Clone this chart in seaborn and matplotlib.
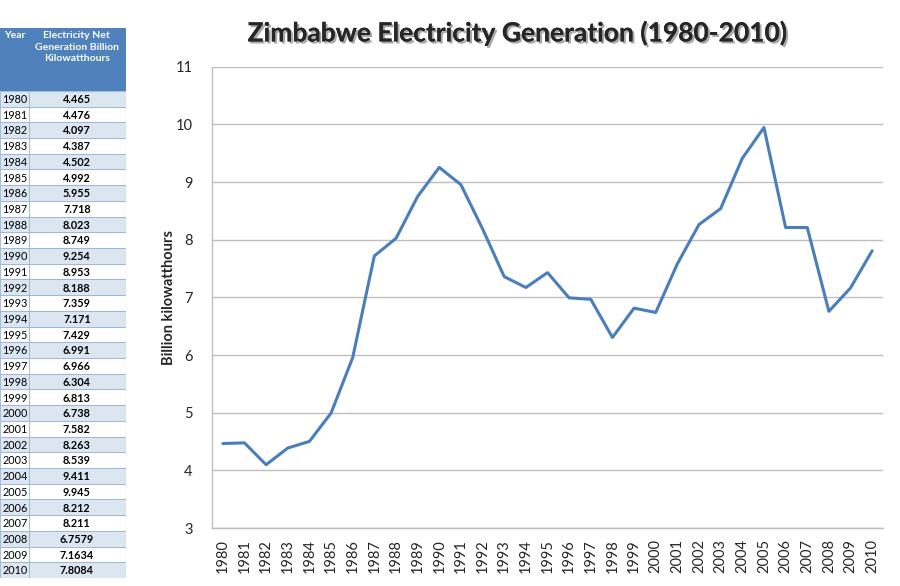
import numpy as np
import pandas as pd
import seaborn as sns
from matplotlib import pyplot as plt
from matplotlib import patheffects as pe
from matplotlib.patches import Rectangle

years = list(range(1980, 2011))
generation = [4.465, 4.476, 4.097, 4.387, 4.502, 4.992, 5.955, 7.718, 8.023, 8.749,
              9.254, 8.953, 8.188, 7.359, 7.171, 7.429, 6.991, 6.966, 6.304, 6.813,
              6.738, 7.582, 8.263, 8.539, 9.411, 9.945, 8.212, 8.211, 6.7579, 7.1634,
              7.8084]
value_labels = ["4.465", "4.476", "4.097", "4.387", "4.502", "4.992", "5.955", "7.718",
                "8.023", "8.749", "9.254", "8.953", "8.188", "7.359", "7.171", "7.429",
                "6.991", "6.966", "6.304", "6.813", "6.738", "7.582", "8.263", "8.539",
                "9.411", "9.945", "8.212", "8.211", "6.7579", "7.1634", "7.8084"]
y_ticks = [3, 4, 5, 6, 7, 8, 9, 10, 11]

sns.set_style("white")
plt.rcParams['font.family'] = ['Lato', 'DejaVu Sans']

df = pd.DataFrame({'year': [str(y) for y in years], 'gen': generation})

fig = plt.figure(figsize=(9, 5.86), dpi=100)

# main chart
ax = fig.add_axes([212 / 900, 1 - 528 / 586, 671 / 900, (528 - 66.7) / 586])
sns.lineplot(data=df, x='year', y='gen', ax=ax, color='#4A7EBB', linewidth=2.2, sort=False)
ax.set_xlim(-0.5, len(years) - 0.5)
ax.set_ylim(3, 11)
ax.set_yticks(y_ticks)
ax.yaxis.grid(True, color='#BEBEBE', linewidth=1)
ax.set_axisbelow(True)
for s in ['top', 'right']:
    ax.spines[s].set_visible(False)
for s in ['left', 'bottom']:
    ax.spines[s].set_color('#BEBEBE')
    ax.spines[s].set_linewidth(1)
ax.tick_params(axis='x', labelrotation=90, labelsize=10.5, colors='#262626', length=0, pad=8)
ax.tick_params(axis='y', labelsize=10.5, colors='#262626', length=0, pad=14)
ax.set_xlabel('')
ax.set_ylabel('Billion kilowatthours', fontsize=10.5, fontweight='bold', labelpad=0)

fig.text(517 / 900, 1 - 33 / 586, 'Zimbabwe Electricity Generation (1980-2010)',
         ha='center', va='center', fontsize=19, fontweight='bold',
         path_effects=[pe.withSimplePatchShadow(offset=(1.5, -1.5), alpha=0.35), pe.Normal()])

# data table on the left
tab = fig.add_axes([0, 1 - 578 / 586, 126 / 900, 550 / 586])
header_h = 4.0
n = len(years)
tab.set_xlim(0, 1)
tab.set_ylim(header_h + n, 0)
tab.axis('off')
split = 0.23
tab.add_patch(Rectangle((0, 0), 1, header_h, facecolor='#4F81BD', edgecolor='none'))
tab.text(0.03, 0.2, 'Year', color='white', fontsize=7.5, fontweight='bold', va='top', ha='left')
tab.text(0.61, 0.2, 'Electricity Net\nGeneration Billion\nKilowatthours', color='white',
         fontsize=7.5, fontweight='bold', va='top', ha='center', linespacing=1.35)
for i, (yr, lab) in enumerate(zip(years, value_labels)):
    top = header_h + i
    fc = '#DCE6F1' if i % 2 == 0 else 'white'
    tab.add_patch(Rectangle((0, top), 1, 1, facecolor=fc, edgecolor='#95B3D7', linewidth=0.6))
    tab.text(0.02, top + 0.55, str(yr), fontsize=7.8, va='center', ha='left', color='black')
    tab.text(0.61, top + 0.55, lab, fontsize=7.8, va='center', ha='center', color='black',
             fontweight='bold')
tab.plot([split, split], [header_h, header_h + n], color='#95B3D7', linewidth=0.6)
tab.plot([1, 1], [0, header_h + n], color='#95B3D7', linewidth=0.8)

fig.savefig('out.png', dpi=100)
